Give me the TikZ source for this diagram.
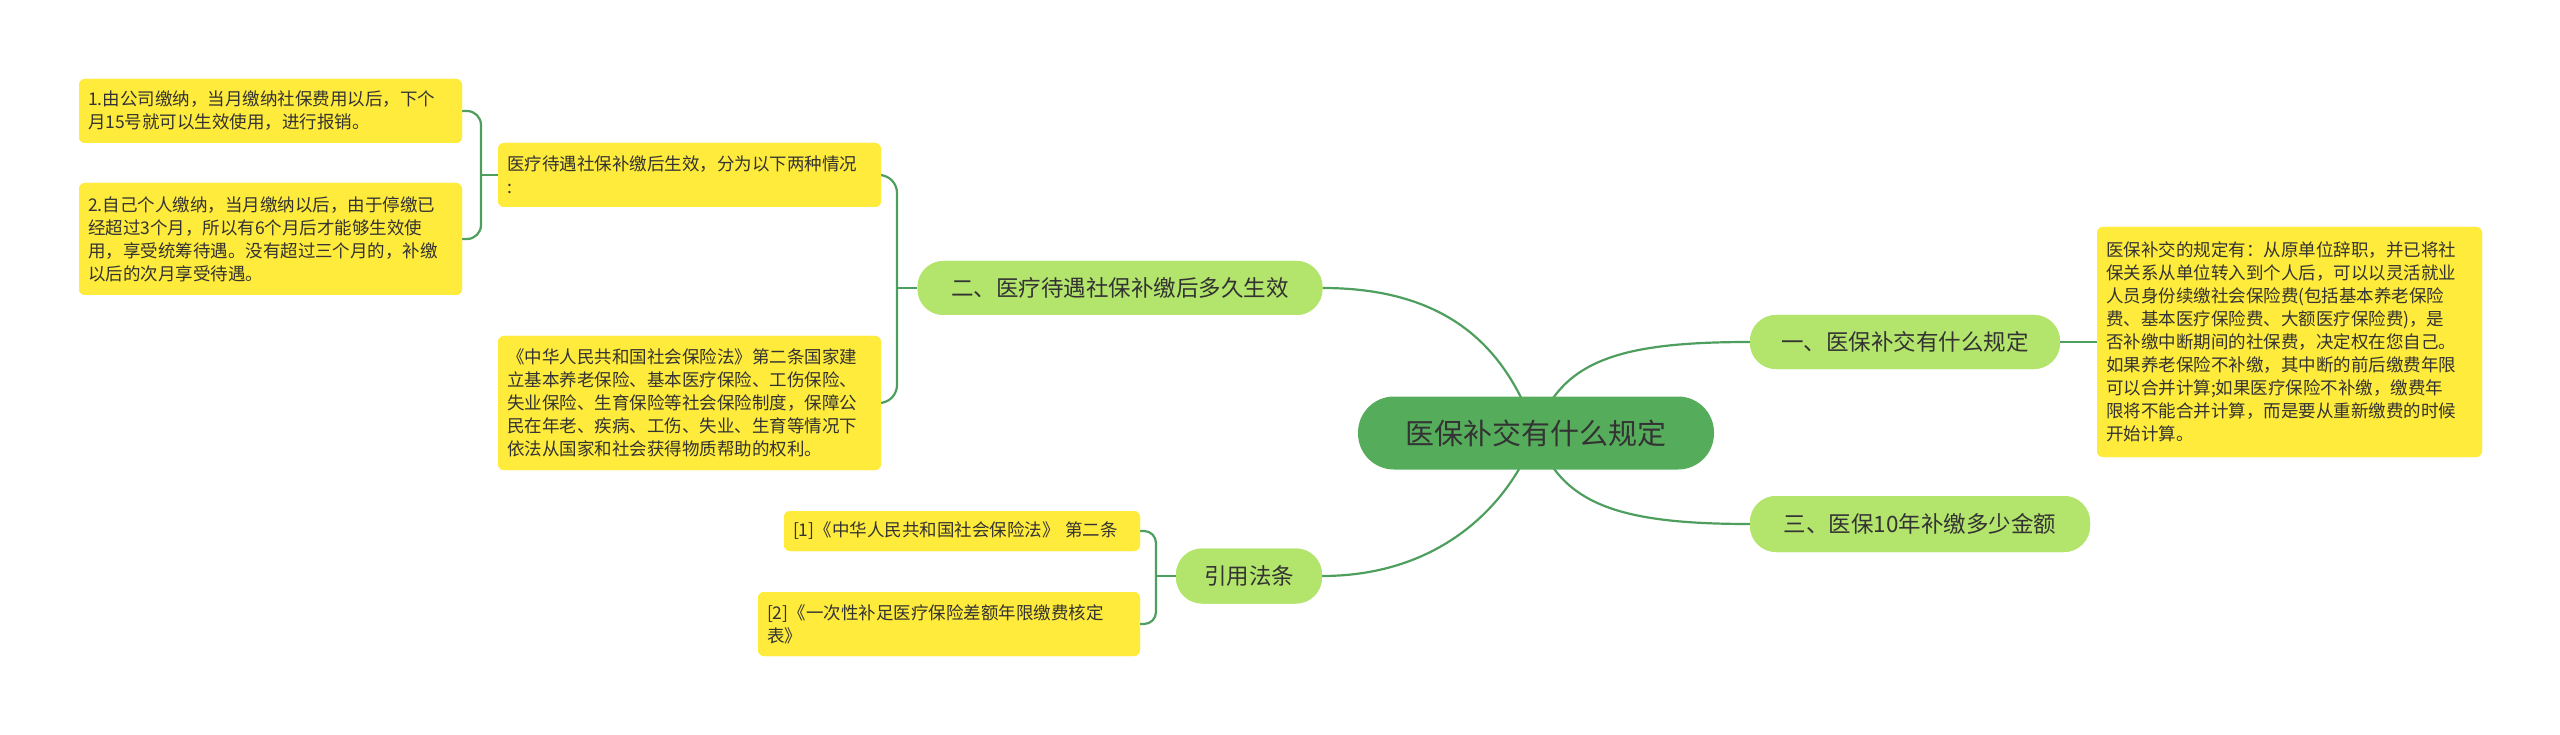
\documentclass[tikz,border=0pt]{standalone}
\usepackage{fontspec}
\setmainfont{Noto Sans CJK SC}
\definecolor{leafy}{HTML}{FFEB3B}
\definecolor{brg}{HTML}{B3E46C}
\definecolor{rootg}{HTML}{55AD5B}
\definecolor{lineg}{HTML}{4E9E5E}
\definecolor{txt}{HTML}{333333}
\tikzset{
 leaf/.style={fill=leafy,rounded corners=6,align=left,inner sep=0pt,text=txt,font=\fontsize{17.5}{23}\selectfont},
 br/.style={fill=brg,rounded corners=26,inner sep=0pt,text=txt,font=\fontsize{22.5}{26}\selectfont},
 conn/.style={draw=lineg,line width=2.2pt},
}
\begin{document}
\begin{tikzpicture}[x=1pt,y=-1pt]
\useasboundingbox (0,0) rectangle (2560,735);
% connectors
\coordinate (rc) at (1536,433);
\coordinate (j2) at (897,288);
\coordinate (j1) at (481,175);
\coordinate (j4) at (1156,576);
\path (1905,342) node[br,minimum width=310,minimum height=54] (b1) {};
\path (1920,524) node[br,minimum width=340,minimum height=56] (b3) {};
\path (1120,288) node[br,minimum width=405,minimum height=54] (b2) {};
\path (1249,576) node[br,minimum width=146,minimum height=55] (b4) {};
\path (270.5,111) node[leaf,minimum width=383,minimum height=64] (l1) {};
\path (270.5,239) node[leaf,minimum width=383,minimum height=112] (l2) {};
\path (689.5,175) node[leaf,minimum width=383,minimum height=64] (m1) {};
\path (689.5,403) node[leaf,minimum width=383,minimum height=134] (m2) {};
\path (962,531) node[leaf,minimum width=356,minimum height=40] (r1) {};
\path (949,624) node[leaf,minimum width=382,minimum height=64] (r2) {};
\path (2289.5,342) node[leaf,minimum width=385,minimum height=230] (rr) {};
\draw[conn] (rc) .. controls (1560,360) and (1620,342) .. (b1.west);
\draw[conn] (rc) .. controls (1560,505) and (1620,524) .. (b3.west);
\draw[conn] (rc) .. controls (1510,360) and (1460,288) .. (b2.east);
\draw[conn] (rc) .. controls (1510,505) and (1440,576) .. (b4.east);
\draw[conn] (b1.east) -- (rr.west);
\draw[conn] (b2.west) -- (j2);
\draw[conn,rounded corners=18] (j2) |- (m1.east);
\draw[conn,rounded corners=18] (j2) |- (m2.east);
\draw[conn] (m1.west) -- (j1);
\draw[conn,rounded corners=14] (j1) |- (l1.east);
\draw[conn,rounded corners=14] (j1) |- (l2.east);
\draw[conn] (b4.west) -- (j4);
\draw[conn,rounded corners=12] (j4) |- (r1.east);
\draw[conn,rounded corners=12] (j4) |- (r2.east);
% nodes
\node[fill=rootg,rounded corners=36,minimum width=356,minimum height=73,inner sep=0pt,text=txt,font=\fontsize{29}{32}\selectfont] (root) at (rc) {医保补交有什么规定};
\node[br,minimum width=310,minimum height=54] at (b1) {一、医保补交有什么规定};
\node[br,minimum width=340,minimum height=56] at (b3) {三、医保10年补缴多少金额};
\node[br,minimum width=405,minimum height=54] at (b2) {二、医疗待遇社保补缴后多久生效};
\node[br,minimum width=146,minimum height=55] at (b4) {引用法条};
\node[leaf,minimum width=383,minimum height=64,text width=365] at (l1) {1.由公司缴纳，当月缴纳社保费用以后，下个\\月15号就可以生效使用，进行报销。};
\node[leaf,minimum width=383,minimum height=112,text width=365] at (l2) {2.自己个人缴纳，当月缴纳以后，由于停缴已\\经超过3个月，所以有6个月后才能够生效使\\用，享受统筹待遇。没有超过三个月的，补缴\\以后的次月享受待遇。};
\node[leaf,minimum width=383,minimum height=64,text width=365] at (m1) {医疗待遇社保补缴后生效，分为以下两种情况\\:};
\node[leaf,minimum width=383,minimum height=134,text width=365] at (m2) {《中华人民共和国社会保险法》第二条国家建\\立基本养老保险、基本医疗保险、工伤保险、\\失业保险、生育保险等社会保险制度，保障公\\民在年老、疾病、工伤、失业、生育等情况下\\依法从国家和社会获得物质帮助的权利。};
\node[leaf,minimum width=356,minimum height=40,text width=338] at (r1) {[1]《中华人民共和国社会保险法》 第二条};
\node[leaf,minimum width=382,minimum height=64,text width=364] at (r2) {[2]《一次性补足医疗保险差额年限缴费核定\\表》};
\node[leaf,minimum width=385,minimum height=230,text width=367] at (rr) {医保补交的规定有：从原单位辞职，并已将社\\保关系从单位转入到个人后，可以以灵活就业\\人员身份续缴社会保险费(包括基本养老保险\\费、基本医疗保险费、大额医疗保险费)，是\\否补缴中断期间的社保费，决定权在您自己。\\如果养老保险不补缴，其中断的前后缴费年限\\可以合并计算;如果医疗保险不补缴，缴费年\\限将不能合并计算，而是要从重新缴费的时候\\开始计算。};
\end{tikzpicture}
\end{document}
